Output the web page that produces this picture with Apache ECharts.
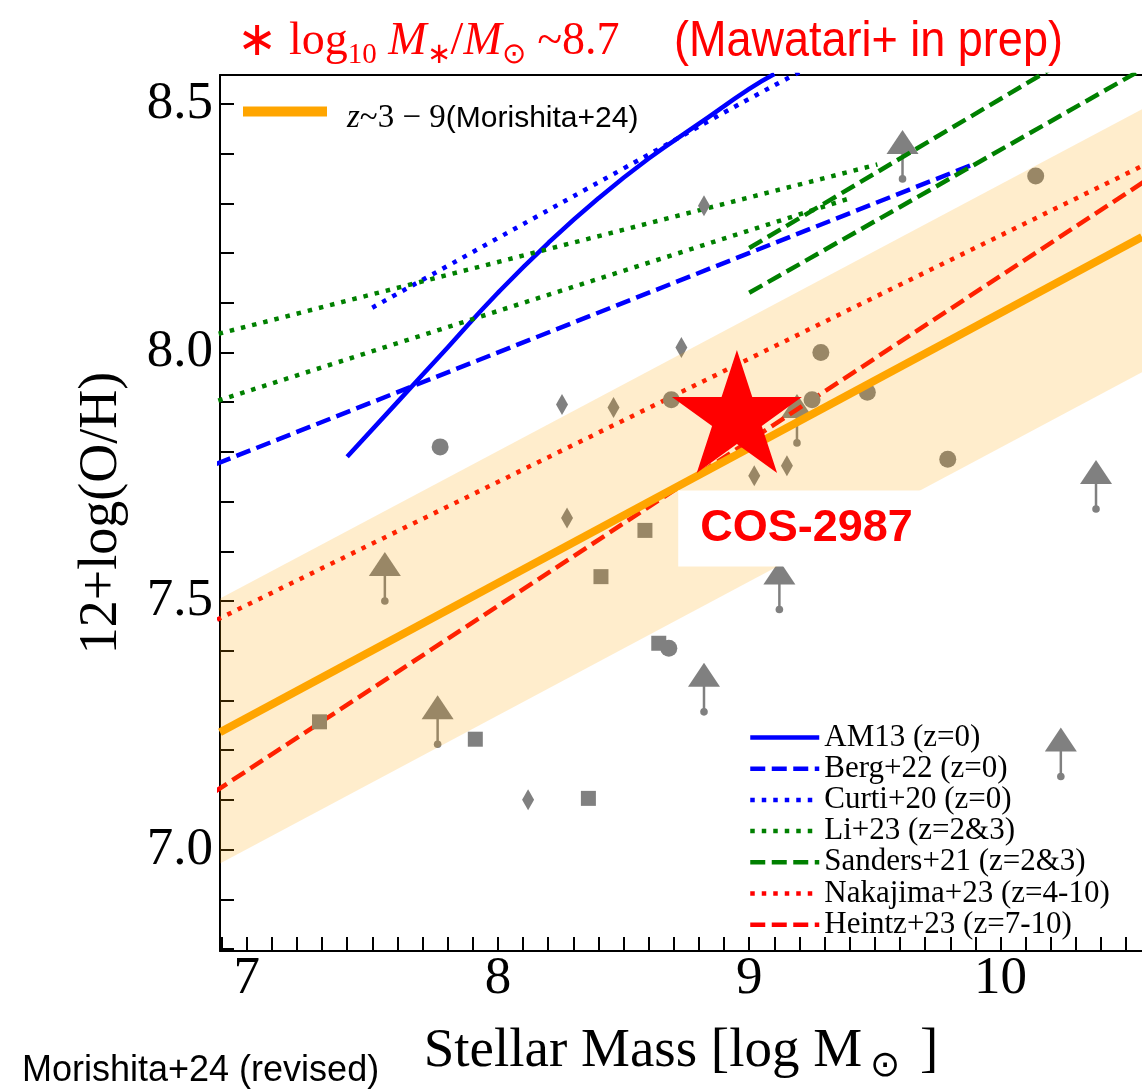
<!DOCTYPE html>
<html><head><meta charset="utf-8">
<script src="https://cdn.jsdelivr.net/npm/echarts@6/dist/echarts.min.js"></script>
<style>html,body{margin:0;padding:0;background:#fff}#c{width:1142px;height:1090px}</style>
</head><body><div id="c"></div>
<script>
// ---------- axes ----------
const xRange = [6.894, 10.563];
const yRange = [6.796, 8.558];
const xTickLabels = [7, 8, 9, 10];
const yTickLabels = [7.0, 7.5, 8.0, 8.5];
const xMinorTicks = [];
for (let i = 69; i <= 105; i++) xMinorTicks.push(i / 10);
const yMinorTicks = [];
for (let i = 68; i <= 85; i++) yMinorTicks.push(i / 10);

// ---------- Morishita+24 relation and scatter band ----------
const morishitaX = [6.894, 10.563];
const morishitaY = [7.236, 8.232];
const bandUpper = [7.505, 8.489];
const bandLower = [6.972, 7.960];

// ---------- literature relations ----------
const am13X = [7.40, 7.60, 7.80, 8.00, 8.20, 8.40, 8.60, 8.80, 9.00, 9.10];
const am13Y = [7.79, 7.90, 8.01, 8.12, 8.22, 8.31, 8.39, 8.46, 8.53, 8.56];
const berg22X = [6.80, 9.90];
const berg22Y = [7.76, 8.38];
const curti20X = [7.50, 8.00, 8.50, 9.00, 9.30];
const curti20Y = [8.09, 8.23, 8.37, 8.51, 8.59];
const li23aX = [6.80, 9.51];
const li23aY = [8.026, 8.378];
const li23bX = [6.80, 9.40];
const li23bY = [7.889, 8.31];
const sanders21aX = [9.00, 10.30];
const sanders21aY = [8.21, 8.60];
const sanders21bX = [9.00, 10.60];
const sanders21bY = [8.12, 8.58];
const nakajima23X = [6.80, 10.60];
const nakajima23Y = [7.442, 8.384];
const heintz23X = [6.80, 10.60];
const heintz23Y = [7.092, 8.353];

// ---------- galaxies ----------
const circles = [[7.77,7.81],[8.69,7.905],[8.68,7.405],[9.25,7.905],[9.285,8.00],[9.47,7.92],[9.79,7.785],[10.14,8.355]];
const squares = [[7.29,7.257],[7.91,7.222],[8.36,7.103],[8.41,7.549],[8.585,7.642],[8.64,7.415]];
const diamonds = [[8.12,7.10],[8.255,7.895],[8.275,7.667],[8.46,7.889],[8.73,8.01],[8.82,8.295],[9.02,7.752],[9.15,7.772]];
const lowerLimits = [[7.55,7.50],[7.76,7.212],[8.82,7.277],[9.12,7.483],[9.19,7.818],[9.61,8.349],[10.24,7.147],[10.38,7.685]];
const cos2987 = [8.951, 7.881];
const cos2987Label = [9.228, 7.646];

const legendNames = ['AM13 (z=0)','Berg+22 (z=0)','Curti+20 (z=0)','Li+23 (z=2&3)','Sanders+21 (z=2&3)','Nakajima+23 (z=4-10)','Heintz+23 (z=7-10)'];

const zip = (xs, ys) => xs.map((x, i) => [x, ys[i]]);
const DASH = [15, 6.5], DOT = [4.5, 7];
function lit(name, xs, ys, color, type, smooth) {
  return {type:'line', name, data: zip(xs, ys), symbol:'none', z:2, silent:true, smooth: !!smooth,
    lineStyle:{color, width:4.5, type, cap:'butt'}, itemStyle:{color}};
}
function starPath() {
  let s = '';
  for (let k = 0; k < 10; k++) {
    const a = (-90 + 36 * k) * Math.PI / 180, r = k % 2 ? 19.1 : 50;
    s += (k ? 'L' : 'M') + (50 + r * Math.cos(a)).toFixed(2) + ' ' + (50 + r * Math.sin(a)).toFixed(2) + ' ';
  }
  return 'path://' + s + 'Z';
}
const GRAY = '#808080';
const serif = 'Liberation Serif';

const chart = echarts.init(document.getElementById('c'), null, {renderer:'canvas'});
const option = {
  animation:false,
  backgroundColor:'#fff',
  grid:{left:220, top:75, right:0, bottom:125},
  xAxis:[{
    type:'value', min:xRange[0], max:xRange[1], position:'bottom',
    axisLine:{show:true, onZero:false, lineStyle:{color:'#000', width:2}},
    axisTick:{show:true, inside:true, length:14, customValues:xMinorTicks, lineStyle:{color:'#000', width:2}},
    axisLabel:{customValues:xTickLabels, margin:2, fontFamily:serif, fontSize:53, color:'#000'},
    splitLine:{show:false},
    name:'{a|Stellar Mass [log M}{s|⊙}{a| ]}', nameLocation:'middle', nameGap:68,
    nameTextStyle:{rich:{a:{fontFamily:serif, fontSize:55, color:'#000', lineHeight:60, verticalAlign:'middle'},
                         s:{fontFamily:'DejaVu Sans', fontSize:36, color:'#000', lineHeight:66, verticalAlign:'bottom', padding:[0,6,0,8]}}}
  },{
    type:'value', min:xRange[0], max:xRange[1], position:'top',
    axisLine:{show:true, onZero:false, lineStyle:{color:'#000', width:2}},
    axisTick:{show:false}, axisLabel:{show:false}, splitLine:{show:false}
  }],
  yAxis:[{
    type:'value', min:yRange[0], max:yRange[1], position:'left',
    axisLine:{show:true, onZero:false, lineStyle:{color:'#000', width:2}},
    axisTick:{show:true, inside:true, length:14, customValues:yMinorTicks, lineStyle:{color:'#000', width:2}},
    axisLabel:{customValues:yTickLabels, margin:7, fontFamily:serif, fontSize:53, color:'#000', formatter:v => v.toFixed(1)},
    splitLine:{show:false},
    name:'12+log(O/H)', nameLocation:'middle', nameGap:91,
    nameTextStyle:{fontFamily:serif, fontSize:54, color:'#000'}
  }],
  legend:[{
    data:legendNames, orient:'vertical', left:748, top:722, padding:0,
    itemWidth:69, itemHeight:14, itemGap:0.2,
    textStyle:{fontFamily:serif, fontSize:31, color:'#000'},
    itemStyle:{opacity:0},
    lineStyle:{width:4.5, opacity:1}
  },{
    data:['Morishita+24'], orient:'vertical', left:238, top:102, padding:0,
    itemWidth:84, itemHeight:10,
    itemStyle:{opacity:0},
    lineStyle:{width:10, opacity:1},
    formatter:() => '{z|z}{m|~3 − 9}{n|(Morishita+24)}',
    textStyle:{padding:[14,0,0,15], rich:{
      z:{fontFamily:serif, fontStyle:'italic', fontSize:33, color:'#000', lineHeight:40},
      m:{fontFamily:serif, fontSize:33, color:'#000', lineHeight:40},
      n:{fontFamily:'Liberation Sans', fontSize:30, color:'#000', lineHeight:40}}}
  }],
  graphic:[{
    type:'text', x:237, y:42, z:100,
    style:{x:0, y:0, align:'left', verticalAlign:'middle',
      text:'{a|∗ }{r|log}{s|10}{i| M}{s|∗}{r|/}{i|M}{s|⊙}{r| ~8.7}',
      rich:{
        a:{fontFamily:serif, fontSize:48, fill:'#f00', lineHeight:56, verticalAlign:'middle'},
        r:{fontFamily:serif, fontSize:46, fill:'#f00', lineHeight:56, verticalAlign:'middle'},
        i:{fontFamily:serif, fontStyle:'italic', fontSize:46, fill:'#f00', lineHeight:56, verticalAlign:'middle'},
        s:{fontFamily:serif, fontSize:29, fill:'#f00', lineHeight:56, verticalAlign:'bottom'}
      }}
  },{
    type:'text', x:674, y:42, scaleX:0.9, z:100,
    style:{x:0, y:0, align:'left', verticalAlign:'middle', text:'(Mawatari+ in prep)',
      fontFamily:'Liberation Sans', fontSize:50, fill:'#f00'}
  },{
    type:'text', x:22, y:1071, z:100,
    style:{x:0, y:0, align:'left', verticalAlign:'middle', text:'Morishita+24 (revised)', fontFamily:'Liberation Sans', fontSize:36, fill:'#000'}
  }],
  series:[
    lit(legendNames[0], am13X, am13Y, '#0000ff', 'solid', true),
    lit(legendNames[1], berg22X, berg22Y, '#0000ff', DASH),
    lit(legendNames[2], curti20X, curti20Y, '#0000ff', DOT, true),
    lit(legendNames[3], li23aX, li23aY, '#008000', DOT),
    lit(legendNames[3], li23bX, li23bY, '#008000', DOT),
    lit(legendNames[4], sanders21aX, sanders21aY, '#008000', DASH),
    lit(legendNames[4], sanders21bX, sanders21bY, '#008000', DASH),
    lit(legendNames[5], nakajima23X, nakajima23Y, '#ff0000', DOT),
    lit(legendNames[6], heintz23X, heintz23Y, '#ff0000', DASH),
    {type:'scatter', name:'circles', data:circles, symbol:'circle', symbolSize:17, itemStyle:{color:GRAY, opacity:1}, z:2, silent:true},
    {type:'scatter', name:'squares', data:squares, symbol:'rect', symbolSize:15, itemStyle:{color:GRAY, opacity:1}, z:2, silent:true},
    {type:'scatter', name:'diamonds', data:diamonds, symbol:'diamond', symbolSize:[12,21], itemStyle:{color:GRAY, opacity:1}, z:2, silent:true},
    {type:'custom', name:'lower limits', data:lowerLimits, z:2, silent:true,
      renderItem:(params, api) => {
        const p = api.coord([api.value(0), api.value(1)]);
        return {type:'group', children:[
          {type:'circle', shape:{cx:p[0], cy:p[1], r:3.8}, style:{fill:GRAY}},
          {type:'line', shape:{x1:p[0], y1:p[1], x2:p[0], y2:p[1]-27}, style:{stroke:GRAY, lineWidth:2.5}},
          {type:'polygon', shape:{points:[[p[0]-16,p[1]-25],[p[0]+16,p[1]-25],[p[0],p[1]-49]]}, style:{fill:GRAY}}
        ]};
      }},
    {type:'custom', name:'band', data:[[morishitaX[0], bandLower[0], bandUpper[0], morishitaX[1], bandLower[1], bandUpper[1]]],
      z:3, silent:true,
      renderItem:(params, api) => {
        const a = api.coord([api.value(0), api.value(1)]), b = api.coord([api.value(3), api.value(4)]);
        const c = api.coord([api.value(3), api.value(5)]), d = api.coord([api.value(0), api.value(2)]);
        return {type:'polygon', shape:{points:[a,b,c,d]}, style:{fill:'rgba(255,165,0,0.2)'}};
      }},
    {type:'line', name:'Morishita+24', data:zip(morishitaX, morishitaY), symbol:'none', z:4, silent:true,
      lineStyle:{color:'#FFA500', width:8}, itemStyle:{color:'#FFA500'}},
    {type:'scatter', name:'label', data:[cos2987Label], symbolSize:1, itemStyle:{color:'rgba(0,0,0,0)', opacity:1}, z:5, silent:true,
      label:{show:true, position:'inside', formatter:'COS-2987', fontFamily:'Liberation Sans', fontWeight:'bold',
        fontSize:45, color:'#ff0000', opacity:1, backgroundColor:'#fff', padding:[15,22], lineHeight:46}},
    {type:'scatter', name:'COS-2987', data:[cos2987], symbol:starPath(), symbolSize:[130,123],
      itemStyle:{color:'#ff0000', opacity:1}, z:6, silent:true}
  ]
};
chart.setOption(option);
</script></body></html>
